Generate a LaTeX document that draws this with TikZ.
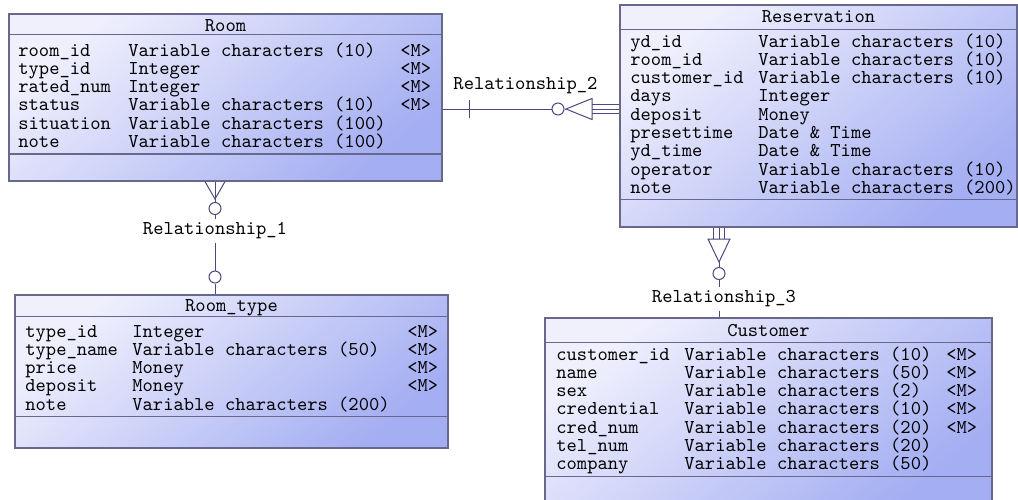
\documentclass[tikz,border=0pt]{standalone}
\usepackage{tikz}
\usetikzlibrary{positioning, calc, fit}

\definecolor{entlight}{RGB}{240,240,253}
\definecolor{entdark}{RGB}{164,174,242}
\definecolor{entline}{RGB}{104,104,140}
\definecolor{relline}{RGB}{74,74,128}

\begin{document}
\begin{tikzpicture}[
    x=0.5pt, y=-0.5pt,
    font=\ttfamily\fontsize{9.8}{9.15}\selectfont,
    every node/.style={inner sep=0pt},
    entity/.style={draw=entline, line width=0.6pt, top color=entlight,
                   bottom color=entdark, shading angle=40},
    title/.style={anchor=base},
    attr/.style={anchor=base west},
    sep/.style={draw=entline, line width=0.6pt},
    rel/.style={draw=relline, line width=0.5pt},
    opt/.style={circle, draw=relline, line width=0.5pt, minimum size=6pt, fill=white},
    rellbl/.style={inner sep=1.5pt},
]
\useasboundingbox (0,0) rectangle (1018,499);

% --------- Room ----------
\node[entity, fit={(9,14) (442,181)}] (room) {};
\node[title] (roomt) at ($(room.north)+(0,18)$) {Room};
\draw[sep] ($(room.north west)+(0,21)$) -- ($(room.north east)+(0,21)$);
\draw[sep] ($(room.north west)+(0,140.5)$) -- ($(room.north east)+(0,140.5)$);
\foreach \nm/\ty/\mk [count=\i from 0] in {
    room\_id/Variable characters (10)/<M>,
    type\_id/Integer/<M>,
    rated\_num/Integer/<M>,
    status/Variable characters (10)/<M>,
    situation/Variable characters (100)/{},
    note/Variable characters (100)/{}} {
  \node[attr] (room-n\i) at (18, 56+18.3*\i)  {\nm};
  \node[attr] (room-t\i) at (128, 56+18.3*\i) {\ty};
  \node[attr] (room-m\i) at (400, 56+18.3*\i) {\mk};
}

% --------- Reservation ----------
\node[entity, fit={(620,5) (1017,227)}] (resv) {};
\node[title] (resvt) at ($(resv.north)+(0,18)$) {Reservation};
\draw[sep] ($(resv.north west)+(0,25)$) -- ($(resv.north east)+(0,25)$);
\draw[sep] ($(resv.north west)+(0,195)$) -- ($(resv.north east)+(0,195)$);
\foreach \nm/\ty [count=\i from 0] in {
    yd\_id/Variable characters (10),
    room\_id/Variable characters (10),
    customer\_id/Variable characters (10),
    days/Integer,
    deposit/Money,
    presettime/Date \& Time,
    yd\_time/Date \& Time,
    operator/Variable characters (10),
    note/Variable characters (200)} {
  \node[attr] (resv-n\i) at (630, 47+18.3*\i) {\nm};
  \node[attr] (resv-t\i) at (758, 47+18.3*\i) {\ty};
}

% --------- Room_type ----------
\node[entity, fit={(15,295) (448,448)}] (rtype) {};
\node[title] (rtypet) at ($(rtype.north)+(0,17)$) {Room\_type};
\draw[sep] ($(rtype.north west)+(0,22)$) -- ($(rtype.north east)+(0,22)$);
\draw[sep] ($(rtype.north west)+(0,122)$) -- ($(rtype.north east)+(0,122)$);
\foreach \nm/\ty/\mk [count=\i from 0] in {
    type\_id/Integer/<M>,
    type\_name/Variable characters (50)/<M>,
    price/Money/<M>,
    deposit/Money/<M>,
    note/Variable characters (200)/{}} {
  \node[attr] (rtype-n\i) at (25, 337+18.3*\i)  {\nm};
  \node[attr] (rtype-t\i) at (132, 337+18.3*\i) {\ty};
  \node[attr] (rtype-m\i) at (407, 337+18.3*\i) {\mk};
}

% --------- Customer ----------
\node[entity, fit={(545,318) (992,506)}] (cust) {};
\node[title] (custt) at ($(cust.north)+(0,19)$) {Customer};
\draw[sep] ($(cust.north west)+(0,25)$) -- ($(cust.north east)+(0,25)$);
\draw[sep] ($(cust.north west)+(0,159)$) -- ($(cust.north east)+(0,159)$);
\foreach \nm/\ty/\mk [count=\i from 0] in {
    customer\_id/Variable characters (10)/<M>,
    name/Variable characters (50)/<M>,
    sex/Variable characters (2)/<M>,
    credential/Variable characters (10)/<M>,
    cred\_num/Variable characters (20)/<M>,
    tel\_num/Variable characters (20)/{},
    company/Variable characters (50)/{}} {
  \node[attr] (cust-n\i) at (556, 360+18.3*\i) {\nm};
  \node[attr] (cust-t\i) at (684, 360+18.3*\i) {\ty};
  \node[attr] (cust-m\i) at (946, 360+18.3*\i) {\mk};
}

% --------- Relationship_1 (Room -- Room_type) ----------
\node[rellbl] (rel1) at (215,231) {Relationship\_1};
\node[opt] (o1a) at (215,208.5) {};
\node[opt] (o1b) at (215,277) {};
\coordinate (k1) at (215,199);
\draw[rel] (k1 |- room.south) -- (k1);
\draw[rel] ($(k1 |- room.south)+(-10,0)$) -- (k1) -- ($(k1 |- room.south)+(10,0)$);
\draw[rel] (k1) -- (o1a.north);
\draw[rel] (o1a) -- (rel1);
\draw[rel] (rel1) -- (o1b);
\draw[rel] (o1b) -- (o1b |- rtype.north);

% --------- Relationship_2 (Room -- Reservation) ----------
\node[rellbl] (rel2) at (525.5,86) {Relationship\_2};
\node[opt] (o2) at (558,109) {};
\coordinate (k2) at (566,109);
\draw[rel] (room.east |- o2) -- (o2);
\draw[rel] ($(room.east |- o2)+(27,-9)$) -- ++(0,18);
\draw[rel] (o2) -- (k2);
\draw[rel] (k2) -- ++(26,-10.5) -- ++(0,21) -- cycle;
\foreach \d in {-4.5,0,4.5}
  \draw[rel] ($(k2)+(26,\d)$) -- ($(resv.west |- k2)+(0,\d)$);

% --------- Relationship_3 (Reservation -- Customer) ----------
\node[rellbl] (rel3) at (724,299) {Relationship\_3};
\node[opt] (o3) at (719,273.5) {};
\coordinate (k3) at (719,262);
\draw[rel] (k3) -- ++(-11,-23) -- ++(22,0) -- cycle;
\foreach \d in {-5.5,0,5.5}
  \draw[rel] ($(k3)+(\d,-23)$) -- ($(resv.south -| k3)+(\d,0)$);
\draw[rel] (k3) -- (o3);
\draw[rel] (o3) -- (o3 |- rel3.north);
\draw[rel] (o3 |- rel3.south) -- (o3 |- cust.north);

\end{tikzpicture}
\end{document}
